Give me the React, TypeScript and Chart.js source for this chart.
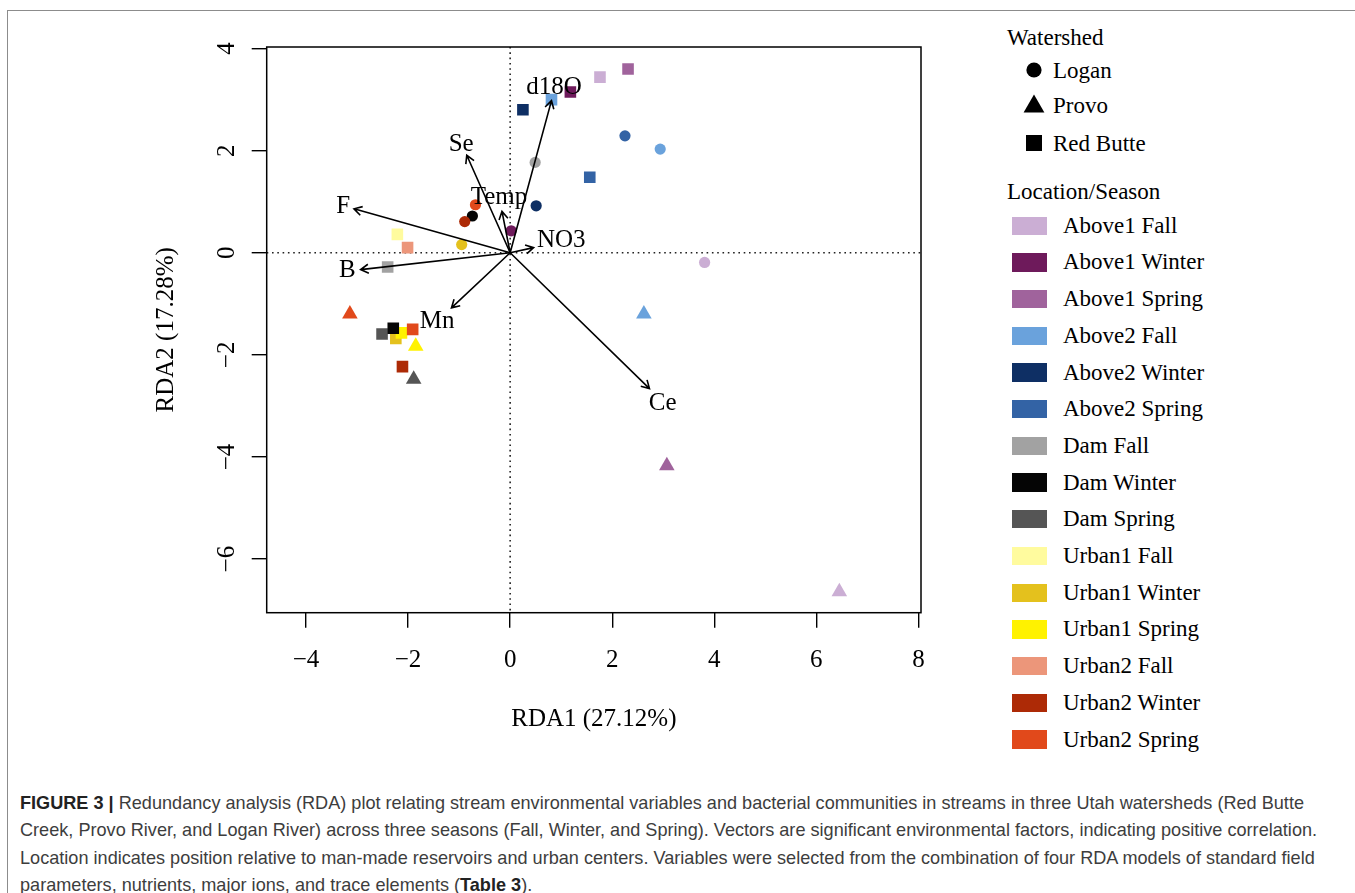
import { useEffect, useRef } from 'react';
import { Chart, registerables } from 'chart.js';
Chart.register(...registerables);

const SERIF = '"Liberation Serif", "Times New Roman", serif';

// Legend groups (location / season)
const groupNames = [
  'Above1 Fall', 'Above1 Winter', 'Above1 Spring',
  'Above2 Fall', 'Above2 Winter', 'Above2 Spring',
  'Dam Fall', 'Dam Winter', 'Dam Spring',
  'Urban1 Fall', 'Urban1 Winter', 'Urban1 Spring',
  'Urban2 Fall', 'Urban2 Winter', 'Urban2 Spring',
];
const groupColors = [
  '#cbaed4', '#6e1a5b', '#a0639c',
  '#6aa2dc', '#0e2f64', '#3363a5',
  '#a2a2a2', '#050505', '#555555',
  '#fffb9e', '#e4c11d', '#fff200',
  '#ec967a', '#ad2a06', '#e1491b',
];
const watershedNames = ['Logan', 'Provo', 'Red Butte'];

// Site scores: RDA1, RDA2, group index, watershed index (0 Logan, 1 Provo, 2 Red Butte)
const siteRDA1 = [
  2.31, 1.76, 1.18, 0.81, 0.25, 1.56, -2.21, -2.01, -2.40, -2.51, -2.24, -2.13, -2.29, -1.91, -2.11,
  -3.14, 2.62, -1.85, -1.89, 3.07, 6.45,
  3.81, 0.02, 2.94, 0.51, 2.25, 0.49, -0.74, -0.95, -0.89, -0.68,
];
const siteRDA2 = [
  3.60, 3.44, 3.15, 3.00, 2.80, 1.48, 0.36, 0.10, -0.28, -1.59, -1.68, -1.57, -1.48, -1.50, -2.23,
  -1.20, -1.20, -1.83, -2.48, -4.17, -6.64,
  -0.19, 0.43, 2.03, 0.92, 2.29, 1.77, 0.72, 0.16, 0.61, 0.94,
];
const siteGroup = [
  2, 0, 1, 3, 4, 5, 9, 12, 6, 8, 10, 11, 7, 14, 13,
  14, 3, 11, 8, 2, 0,
  0, 1, 3, 4, 5, 6, 7, 10, 13, 14,
];
const siteShed = [
  2, 2, 2, 2, 2, 2, 2, 2, 2, 2, 2, 2, 2, 2, 2,
  1, 1, 1, 1, 1, 1,
  0, 0, 0, 0, 0, 0, 0, 0, 0, 0,
];

// Environmental vectors (arrow tips) and their label positions
const vectorNames = ['d18O', 'Se', 'Temp', 'F', 'NO3', 'B', 'Mn', 'Ce'];
const vectorRDA1 = [0.81, -0.85, -0.16, -3.06, 0.46, -2.93, -1.15, 2.73];
const vectorRDA2 = [2.98, 1.91, 0.81, 0.86, 0.10, -0.33, -1.08, -2.66];
const labelRDA1 = [0.86, -0.96, -0.22, -3.27, 1.0, -3.19, -1.43, 2.99];
const labelRDA2 = [3.24, 2.12, 1.09, 0.90, 0.24, -0.34, -1.35, -2.95];

const xTicks = [-4, -2, 0, 2, 4, 6, 8];
const yTicks = [-6, -4, -2, 0, 2, 4];

const shedStyle = ['circle', 'triangle', 'rect'];
const shedRadius = [5.6, 9, 8.2];

const captionLines = [
  [['FIGURE 3 |', true], [' Redundancy analysis (RDA) plot relating stream environmental variables and bacterial communities in streams in three Utah watersheds (Red Butte', false]],
  [['Creek, Provo River, and Logan River) across three seasons (Fall, Winter, and Spring). Vectors are significant environmental factors, indicating positive correlation.', false]],
  [['Location indicates position relative to man-made reservoirs and urban centers. Variables were selected from the combination of four RDA models of standard field', false]],
  [['parameters, nutrients, major ions, and trace elements (', false], ['Table 3', true], [').', false]],
] as [string, boolean][][];

const minus = (v: number) => String(v).replace('-', '\u2212');

const rdaPlugin = {
  id: 'rdaPlugin',
  beforeDatasetsDraw(chart: any) {
    const { ctx, chartArea: a, scales } = chart;
    const x0 = scales.x.getPixelForValue(0);
    const y0 = scales.y.getPixelForValue(0);
    ctx.save();
    ctx.strokeStyle = '#222';
    ctx.lineWidth = 1.6;
    ctx.setLineDash([1.6, 3.7]);
    ctx.beginPath();
    ctx.moveTo(x0, a.top);
    ctx.lineTo(x0, a.bottom);
    ctx.moveTo(a.left, y0);
    ctx.lineTo(a.right, y0);
    ctx.stroke();
    ctx.restore();
  },
  afterDatasetsDraw(chart: any) {
    const { ctx, chartArea: a, scales } = chart;
    const x0 = scales.x.getPixelForValue(0);
    const y0 = scales.y.getPixelForValue(0);
    ctx.save();
    ctx.strokeStyle = '#000';
    ctx.lineWidth = 1.6;
    ctx.setLineDash([]);
    const head = 9;
    for (let i = 0; i < vectorNames.length; i++) {
      const x1 = scales.x.getPixelForValue(vectorRDA1[i]);
      const y1 = scales.y.getPixelForValue(vectorRDA2[i]);
      const ang = Math.atan2(y1 - y0, x1 - x0);
      ctx.beginPath();
      ctx.moveTo(x0, y0);
      ctx.lineTo(x1, y1);
      ctx.moveTo(x1 - head * Math.cos(ang - Math.PI / 6), y1 - head * Math.sin(ang - Math.PI / 6));
      ctx.lineTo(x1, y1);
      ctx.lineTo(x1 - head * Math.cos(ang + Math.PI / 6), y1 - head * Math.sin(ang + Math.PI / 6));
      ctx.stroke();
    }
    ctx.fillStyle = '#000';
    ctx.font = '25px ' + SERIF;
    ctx.textAlign = 'center';
    ctx.textBaseline = 'middle';
    for (let i = 0; i < vectorNames.length; i++) {
      ctx.fillText(
        vectorNames[i],
        scales.x.getPixelForValue(labelRDA1[i]),
        scales.y.getPixelForValue(labelRDA2[i]),
      );
    }
    ctx.lineWidth = 1.5;
    ctx.strokeRect(a.left, a.top, a.right - a.left, a.bottom - a.top);
    ctx.restore();
  },
};

export default function App() {
  const canvasRef = useRef<HTMLCanvasElement>(null);
  const capRef = useRef<HTMLDivElement>(null);

  useEffect(() => {
    const chart = new Chart(canvasRef.current as HTMLCanvasElement, {
      type: 'scatter',
      data: {
        datasets: [
          {
            data: siteRDA1.map((v, i) => ({ x: v, y: siteRDA2[i] })),
            pointBackgroundColor: siteGroup.map((g) => groupColors[g]),
            pointStyle: siteShed.map((s) => shedStyle[s]) as any,
            pointRadius: siteShed.map((s) => shedRadius[s]),
            pointBorderWidth: 0,
            pointHoverRadius: siteShed.map((s) => shedRadius[s]),
          },
        ],
      },
      options: {
        animation: false,
        responsive: false,
        events: [],
        layout: { padding: { left: 0, top: 47, right: 39, bottom: 0 } },
        plugins: { legend: { display: false }, tooltip: { enabled: false } },
        scales: {
          x: {
            type: 'linear',
            min: -4.77,
            max: 8.05,
            afterBuildTicks: (s: any) => { s.ticks = xTicks.map((v) => ({ value: v })); },
            afterFit: (s: any) => { s.height = 147.3; },
            ticks: {
              callback: (v: any) => minus(v),
              font: { family: SERIF, size: 25 },
              color: '#000',
              padding: 18,
              maxRotation: 0,
              minRotation: 0,
            },
            grid: { drawOnChartArea: false, drawTicks: true, tickLength: 15, color: '#000', lineWidth: 1.4 },
            border: { display: false },
            title: {
              display: true,
              text: 'RDA1 (27.12%)',
              font: { family: SERIF, size: 25 },
              color: '#000',
              padding: { top: 0, bottom: 26 },
            },
          },
          y: {
            type: 'linear',
            min: -7.05,
            max: 4.03,
            afterBuildTicks: (s: any) => { s.ticks = yTicks.map((v) => ({ value: v })); },
            afterFit: (s: any) => { s.width = 266.7; },
            ticks: {
              callback: (v: any) => minus(v),
              font: { family: SERIF, size: 25 },
              color: '#000',
              padding: 11,
              minRotation: 90,
              maxRotation: 90,
              crossAlign: 'center',
            },
            grid: { drawOnChartArea: false, drawTicks: true, tickLength: 15, color: '#000', lineWidth: 1.4 },
            border: { display: false },
            title: {
              display: true,
              text: 'RDA2 (17.28%)',
              font: { family: SERIF, size: 25 },
              color: '#000',
              padding: { top: 151, bottom: 0 },
            },
          },
        },
      } as any,
      plugins: [rdaPlugin],
    });

    // condense caption lines to the reference's width
    const cap = capRef.current;
    if (cap) {
      const lines = Array.from(cap.querySelectorAll('.capline')) as HTMLElement[];
      const w = lines[0].getBoundingClientRect().width;
      const k = 1284 / w;
      lines.forEach((el) => { el.style.transform = `scaleX(${k})`; });
    }
    return () => chart.destroy();
  }, []);

  const legendText = { position: 'absolute', fontFamily: SERIF, fontSize: 23, color: '#000', height: 30, lineHeight: '30px', whiteSpace: 'nowrap' } as any;

  return (
    <div style={{ position: 'absolute', left: 0, top: 0, width: 1355, height: 893, background: '#fff', overflow: 'hidden' }}>
      <div style={{ position: 'absolute', left: 7, top: 10, width: 1360, height: 900, borderTop: '1px solid #8c8c8c', borderLeft: '1px solid #8c8c8c' }} />
      <canvas ref={canvasRef} width={960} height={760} style={{ position: 'absolute', left: 0, top: 0, width: 960, height: 760 }} />

      {/* Legend */}
      <div style={{ ...legendText, left: 1007, top: 38 - 15 }}>Watershed</div>
      {watershedNames.map((n, i) => {
        const cy = [69.5, 105, 142.5][i];
        return (
          <div key={n}>
            <svg style={{ position: 'absolute', left: 1022, top: cy - 12 }} width={24} height={24}>
              {i === 0 && <circle cx={12} cy={12} r={7.6} fill="#000" />}
              {i === 1 && <polygon points="12,1.5 22.4,19.5 1.6,19.5" fill="#000" />}
              {i === 2 && <rect x={4} y={4} width={16} height={16} fill="#000" />}
            </svg>
            <div style={{ ...legendText, left: 1053, top: cy + 1 - 15 }}>{n}</div>
          </div>
        );
      })}
      <div style={{ ...legendText, left: 1007, top: 192 - 15 }}>Location/Season</div>
      {groupNames.map((n, i) => {
        const cy = 225.7 + 36.7 * i;
        return (
          <div key={n}>
            <div style={{ position: 'absolute', left: 1012, top: cy - 9.2, width: 35, height: 18.4, background: groupColors[i] }} />
            <div style={{ ...legendText, left: 1063, top: cy - 15 }}>{n}</div>
          </div>
        );
      })}

      {/* Caption */}
      <div ref={capRef} style={{ position: 'absolute', left: 20, top: 789, fontFamily: '"Liberation Sans", Arial, sans-serif', fontSize: 19, color: '#3d3d3d' }}>
        {captionLines.map((line, li) => (
          <div key={li} style={{ height: 27.4, lineHeight: '27.4px' }}>
            <span className="capline" style={{ display: 'inline-block', whiteSpace: 'nowrap', transformOrigin: 'left center' }}>
              {line.map(([t, b], j) => (
                <span key={j} style={{ fontWeight: b ? 700 : 400, color: b ? '#222' : undefined }}>{t}</span>
              ))}
            </span>
          </div>
        ))}
      </div>
    </div>
  );
}
